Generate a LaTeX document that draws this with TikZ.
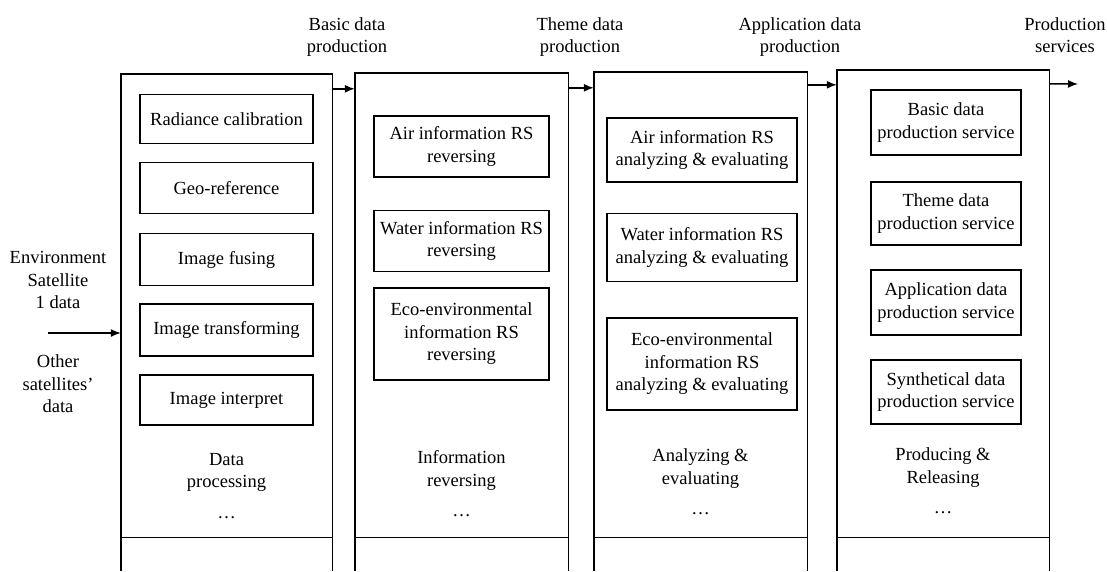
\documentclass[tikz,border=0pt]{standalone}
\usepackage{fontspec}
\setmainfont{Liberation Serif}
\usetikzlibrary{arrows.meta}

\begin{document}
\begin{tikzpicture}[
    x=1pt,y=-1pt,
    column/.style={rectangle, inner sep=0pt, minimum height=#1},
    frame/.style={line width=1.4pt},
    task/.style={draw, line width=1.3pt, align=center, inner sep=2pt,
      font=\fontsize{18.5}{22.5}\selectfont},
    label/.style={align=center, inner sep=0pt, font=\fontsize{18.5}{22.5}\selectfont},
    edge/.style={-{Latex[length=10pt,width=8pt]}, line width=1.4pt}
  ]
    \useasboundingbox (0,0) rectangle (1107,571);

    \node[column=497, minimum width=211] (proc) at (226.5,322.5) {};
    \node[column=498, minimum width=213] (rev) at (461.5,322) {};
    \node[column=499, minimum width=213] (anl) at (700.5,321.5) {};
    \node[column=501, minimum width=212] (rel) at (943,320.5) {};

    \draw[frame] (proc.south west) |- (proc.north east) -- (proc.south east);
    \draw[frame] (rev.south west) |- (rev.north east) -- (rev.south east);
    \draw[frame] (anl.south west) |- (anl.north east) -- (anl.south east);
    \draw[frame] (rel.south west) |- (rel.north east) -- (rel.south east);
    \draw[frame] ([yshift=34pt]proc.south west) -- ([yshift=34pt]proc.south east);
    \draw[frame] ([yshift=34pt]rev.south west) -- ([yshift=34pt]rev.south east);
    \draw[frame] ([yshift=34pt]anl.south west) -- ([yshift=34pt]anl.south east);
    \draw[frame] ([yshift=34pt]rel.south west) -- ([yshift=34pt]rel.south east);

    \node[task, minimum width=173, minimum height=49] (radiance) at (226.5,119) {Radiance calibration};
    \node[task, minimum width=173, minimum height=51] (georef) at (226.5,188) {Geo-reference};
    \node[task, minimum width=173, minimum height=52] (fusing) at (226.5,259.5) {Image fusing};
    \node[task, minimum width=173, minimum height=52] (transform) at (226.5,330) {Image transforming};
    \node[task, minimum width=173, minimum height=50] (interpret) at (226.5,400) {Image interpret};
    \node[label] (proclabel) at (226.5,486) {Data\\processing\\[8pt]\ldots};

    \node[task, minimum width=175, minimum height=61] (airrev) at (461.5,146.5) {Air information RS\\reversing};
    \node[task, minimum width=175, minimum height=61] (waterrev) at (461.5,241) {Water information RS\\reversing};
    \node[task, minimum width=175, minimum height=92] (ecorev) at (461.5,334) {Eco-environmental\\information RS\\reversing};
    \node[label] (revlabel) at (461.5,484) {Information\\reversing\\[8pt]\ldots};

    \node[task, minimum width=190, minimum height=64] (airanl) at (702,150) {Air information RS\\analyzing \& evaluating};
    \node[task, minimum width=190, minimum height=68] (wateranl) at (702,247.5) {Water information RS\\analyzing \& evaluating};
    \node[task, minimum width=190, minimum height=92] (ecoanl) at (702,364) {Eco-environmental\\information RS\\analyzing \& evaluating};
    \node[label] (anllabel) at (700.5,482) {Analyzing \&\\evaluating\\[8pt]\ldots};

    \node[task, minimum width=150, minimum height=65] (basicsrv) at (946,122.5) {Basic data\\production service};
    \node[task, minimum width=150, minimum height=63] (themesrv) at (946,213.5) {Theme data\\production service};
    \node[task, minimum width=150, minimum height=65] (appsrv) at (946,302.5) {Application data\\production service};
    \node[task, minimum width=150, minimum height=64] (synsrv) at (946,392) {Synthetical data\\production service};
    \node[label] (rellabel) at (943,481) {Producing \&\\Releasing\\[8pt]\ldots};

    \node[label] (envsat) at (58,280) {Environment\\Satellite\\1 data};
    \node[label] (othersat) at (58,384) {Other\\satellites'\\data};
    \coordinate (input) at (48,333);
    \coordinate (output) at (1078,84);

    \node[label] (basicdata) at (347,37) {Basic data\\production};
    \node[label] (themedata) at (580,37) {Theme data\\production};
    \node[label] (appdata) at (800,37) {Application data\\production};
    \node[label] (services) at (1065,35) {Production\\services};

    \draw[edge] (input) -- (input -| proc.west);
    \draw[edge] ([yshift=-15pt]proc.north east) -- ([yshift=-15pt]proc.north east -| rev.west);
    \draw[edge] ([yshift=-15pt]rev.north east) -- ([yshift=-15pt]rev.north east -| anl.west);
    \draw[edge] ([yshift=-13pt]anl.north east) -- ([yshift=-13pt]anl.north east -| rel.west);
    \draw[edge] ([yshift=-14pt]rel.north east) -- (output);
  \end{tikzpicture}
\end{document}
